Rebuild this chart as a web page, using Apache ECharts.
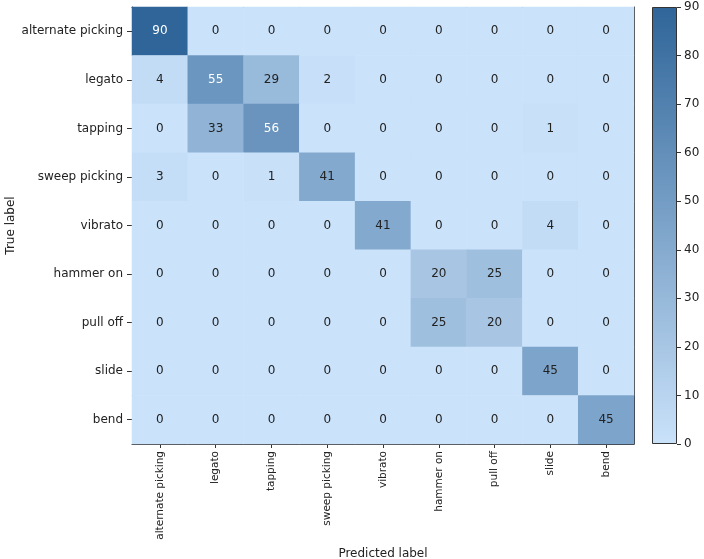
<!DOCTYPE html>
<html><head><meta charset="utf-8">
<script src="https://cdn.jsdelivr.net/npm/echarts@6/dist/echarts.min.js"></script>
<style>html,body{margin:0;padding:0;background:#fff}#c{width:704px;height:559px}</style>
</head><body><div id="c"></div>
<script>
const categories = ['alternate picking','legato','tapping','sweep picking','vibrato','hammer on','pull off','slide','bend'];
const matrix = [
  [90,0,0,0,0,0,0,0,0],
  [4,55,29,2,0,0,0,0,0],
  [0,33,56,0,0,0,0,1,0],
  [3,0,1,41,0,0,0,0,0],
  [0,0,0,0,41,0,0,4,0],
  [0,0,0,0,0,20,25,0,0],
  [0,0,0,0,0,25,20,0,0],
  [0,0,0,0,0,0,0,45,0],
  [0,0,0,0,0,0,0,0,45]
];
const colorbarTicks = [0,10,20,30,40,50,60,70,80,90];
const vmin = 0, vmax = 90;
const lowColor = '#cae2fa', highColor = '#2f6599';
const FONT = 'DejaVu Sans';

const data = [];
matrix.forEach((row, r) => row.forEach((v, c) => {
  data.push({value: [c, r, v], label: {color: v > vmax / 2 ? '#ffffff' : '#222222'}});
}));

const chart = echarts.init(document.getElementById('c'), null, {renderer: 'canvas'});
chart.setOption({
  animation: false,
  backgroundColor: '#ffffff',
  textStyle: {fontFamily: FONT},
  grid: [
    {left: 132, right: 70, top: 7, bottom: 115, outerBoundsMode: 'none', containLabel: false},
    {left: 652, width: 25, top: 7, bottom: 115, outerBoundsMode: 'none', containLabel: false}
  ],
  xAxis: [
    {type: 'category', data: categories, gridIndex: 0, position: 'bottom',
     name: 'Predicted label', nameLocation: 'middle', nameGap: 96,
     nameTextStyle: {fontSize: 12, color: '#222', fontFamily: FONT},
     axisLine: {show: true, lineStyle: {color: '#333', width: 1}},
     axisTick: {show: true, alignWithLabel: true, length: 4, lineStyle: {color: '#333'}},
     axisLabel: {rotate: 90, fontSize: 10.5, color: '#222', margin: 7, fontFamily: FONT, interval: 0},
     splitLine: {show: false}},
    {type: 'category', data: categories, gridIndex: 0, position: 'top',
     axisLine: {show: true, lineStyle: {color: '#333', width: 1}},
     axisTick: {show: false}, axisLabel: {show: false}, splitLine: {show: false}},
    {type: 'category', data: ['cb'], gridIndex: 1, show: false}
  ],
  yAxis: [
    {type: 'category', data: categories, gridIndex: 0, inverse: true, position: 'left',
     name: 'True label', nameLocation: 'middle', nameGap: 115, nameRotate: 90,
     nameMoveOverlap: false,
     nameTextStyle: {fontSize: 12, color: '#222', fontFamily: FONT},
     axisLine: {show: true, lineStyle: {color: '#333', width: 1}},
     axisTick: {show: true, alignWithLabel: true, length: 5, lineStyle: {color: '#333'}},
     axisLabel: {fontSize: 12, color: '#222', margin: 9, fontFamily: FONT, interval: 0},
     splitLine: {show: false}},
    {type: 'category', data: categories, gridIndex: 0, inverse: true, position: 'right',
     axisLine: {show: true, lineStyle: {color: '#333', width: 1}},
     axisTick: {show: false}, axisLabel: {show: false}, splitLine: {show: false}},
    {type: 'value', gridIndex: 1, position: 'right', min: vmin, max: vmax, interval: 10,
     axisLine: {show: false},
     axisTick: {show: true, length: 4, lineStyle: {color: '#333'}},
     axisLabel: {fontSize: 12, color: '#222', margin: 7, fontFamily: FONT,
       formatter: v => colorbarTicks.includes(v) ? String(v) : ''},
     splitLine: {show: false}}
  ],
  visualMap: {
    show: false, type: 'continuous', min: vmin, max: vmax, seriesIndex: 0, dimension: 2,
    inRange: {color: [lowColor, highColor]}
  },
  series: [
    {type: 'heatmap', xAxisIndex: 0, yAxisIndex: 0, data: data,
     itemStyle: {borderWidth: 0},
     label: {show: true, fontSize: 12, fontFamily: FONT, formatter: p => String(p.value[2])},
     emphasis: {disabled: true}},
    {type: 'bar', xAxisIndex: 2, yAxisIndex: 2, data: [vmax], barWidth: '100%',
     itemStyle: {
       color: new echarts.graphic.LinearGradient(0, 0, 0, 1, [
         {offset: 0, color: highColor}, {offset: 1, color: lowColor}]),
       borderColor: '#333', borderWidth: 1
     },
     emphasis: {disabled: true}}
  ]
});
</script></body></html>
